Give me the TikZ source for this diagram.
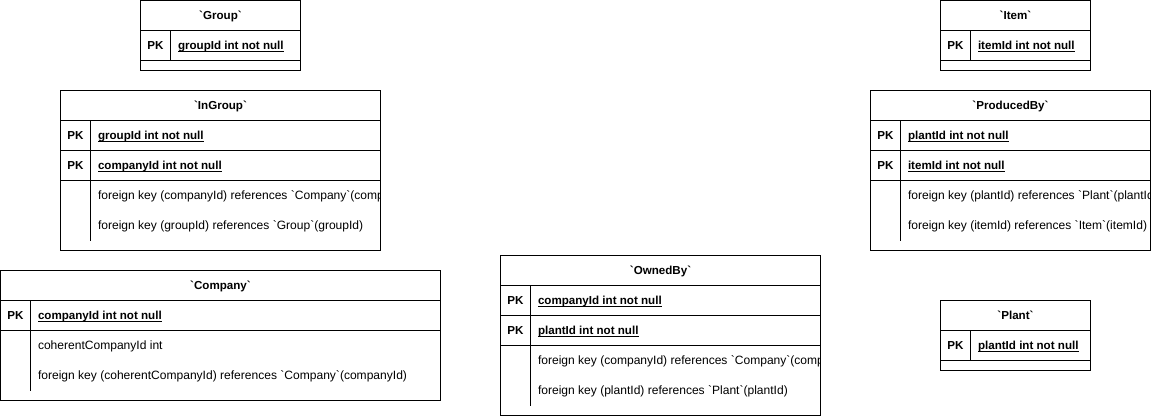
\documentclass[tikz,border=0pt]{standalone}
\usepackage{fontspec}
\setmainfont{Liberation Sans}[Ligatures=TeXOff]
\newcommand\bfsz{\fontsize{11.6}{14}\selectfont\bfseries}
\newcommand\ulbf[1]{\setbox0\hbox{\bfsz #1}\rlap{\rule[-1.7pt]{\wd0}{1pt}}\box0}
\begin{document}
\begin{tikzpicture}[x=1pt,y=-1pt,
  every node/.style={inner sep=0pt, outer sep=0pt, font=\fontsize{12.05}{14}\selectfont},
  tbl/.style={draw, line width=1pt, anchor=north west},
  ttl/.style={anchor=base, font=\bfsz},
  pk/.style={anchor=base, font=\bfsz},
  fld/.style={anchor=base west},
  sep/.style={line width=1pt}]
\useasboundingbox (0,0) rectangle (1161,416);

% ---------- Group ----------
\begin{scope}[shift={(140.5,0.5)}]
  \node[tbl, minimum width=160pt, minimum height=70pt] (group) at (0,0) {};
  \draw[sep] (0,30) -- (160,30) (0,60) -- (160,60) (30,30) -- (30,60);
  \begin{scope}
    \clip (0,0) rectangle (160,70);
    \node[ttl] (group-t) at (80,19.3) {`Group`};
    \node[pk] (group-pk1) at (15,49.3) {PK};
    \node[fld] (group-f1) at (37.5,49.3) {\ulbf{groupId int not null}};
  \end{scope}
\end{scope}

% ---------- Item ----------
\begin{scope}[shift={(940.5,0.5)}]
  \node[tbl, minimum width=150pt, minimum height=70pt] (item) at (0,0) {};
  \draw[sep] (0,30) -- (150,30) (0,60) -- (150,60) (30,30) -- (30,60);
  \begin{scope}
    \clip (0,0) rectangle (150,70);
    \node[ttl] (item-t) at (75,19.3) {`Item`};
    \node[pk] (item-pk1) at (15,49.3) {PK};
    \node[fld] (item-f1) at (37.5,49.3) {\ulbf{itemId int not null}};
  \end{scope}
\end{scope}

% ---------- Plant ----------
\begin{scope}[shift={(940.5,300.5)}]
  \node[tbl, minimum width=150pt, minimum height=70pt] (plant) at (0,0) {};
  \draw[sep] (0,30) -- (150,30) (0,60) -- (150,60) (30,30) -- (30,60);
  \begin{scope}
    \clip (0,0) rectangle (150,70);
    \node[ttl] (plant-t) at (75,19.3) {`Plant`};
    \node[pk] (plant-pk1) at (15,49.3) {PK};
    \node[fld] (plant-f1) at (37.5,49.3) {\ulbf{plantId int not null}};
  \end{scope}
\end{scope}

% ---------- InGroup ----------
\begin{scope}[shift={(60.5,90.5)}]
  \node[tbl, minimum width=320pt, minimum height=160pt] (ingroup) at (0,0) {};
  \draw[sep] (0,30) -- (320,30) (0,60) -- (320,60) (0,90) -- (320,90) (30,30) -- (30,150);
  \begin{scope}
    \clip (0,0) rectangle (320,160);
    \node[ttl] (ingroup-t) at (160,19.3) {`InGroup`};
    \node[pk] (ingroup-pk1) at (15,49.3) {PK};
    \node[fld] (ingroup-f1) at (37.5,49.3) {\ulbf{groupId int not null}};
    \node[pk] (ingroup-pk2) at (15,79.3) {PK};
    \node[fld] (ingroup-f2) at (37.5,79.3) {\ulbf{companyId int not null}};
    \node[fld] (ingroup-f3) at (37.5,109.3) {foreign key (companyId) references `Company`(companyId)};
    \node[fld] (ingroup-f4) at (37.5,139.3) {foreign key (groupId) references `Group`(groupId)};
  \end{scope}
\end{scope}

% ---------- ProducedBy ----------
\begin{scope}[shift={(870.5,90.5)}]
  \node[tbl, minimum width=280pt, minimum height=160pt] (producedby) at (0,0) {};
  \draw[sep] (0,30) -- (280,30) (0,60) -- (280,60) (0,90) -- (280,90) (30,30) -- (30,150);
  \begin{scope}
    \clip (0,0) rectangle (280,160);
    \node[ttl] (producedby-t) at (140,19.3) {`ProducedBy`};
    \node[pk] (producedby-pk1) at (15,49.3) {PK};
    \node[fld] (producedby-f1) at (37.5,49.3) {\ulbf{plantId int not null}};
    \node[pk] (producedby-pk2) at (15,79.3) {PK};
    \node[fld] (producedby-f2) at (37.5,79.3) {\ulbf{itemId int not null}};
    \node[fld] (producedby-f3) at (37.5,109.3) {foreign key (plantId) references `Plant`(plantId)};
    \node[fld] (producedby-f4) at (37.5,139.3) {foreign key (itemId) references `Item`(itemId)};
  \end{scope}
\end{scope}

% ---------- Company ----------
\begin{scope}[shift={(0.5,270.5)}]
  \node[tbl, minimum width=440pt, minimum height=130pt] (company) at (0,0) {};
  \draw[sep] (0,30) -- (440,30) (0,60) -- (440,60) (30,30) -- (30,120);
  \begin{scope}
    \clip (0,0) rectangle (440,130);
    \node[ttl] (company-t) at (220,19.3) {`Company`};
    \node[pk] (company-pk1) at (15,49.3) {PK};
    \node[fld] (company-f1) at (37.5,49.3) {\ulbf{companyId int not null}};
    \node[fld] (company-f2) at (37.5,79.3) {coherentCompanyId int};
    \node[fld] (company-f3) at (37.5,109.3) {foreign key (coherentCompanyId) references `Company`(companyId)};
  \end{scope}
\end{scope}

% ---------- OwnedBy ----------
\begin{scope}[shift={(500.5,255.5)}]
  \node[tbl, minimum width=320pt, minimum height=160pt] (ownedby) at (0,0) {};
  \draw[sep] (0,30) -- (320,30) (0,60) -- (320,60) (0,90) -- (320,90) (30,30) -- (30,150);
  \begin{scope}
    \clip (0,0) rectangle (320,160);
    \node[ttl] (ownedby-t) at (160,19.3) {`OwnedBy`};
    \node[pk] (ownedby-pk1) at (15,49.3) {PK};
    \node[fld] (ownedby-f1) at (37.5,49.3) {\ulbf{companyId int not null}};
    \node[pk] (ownedby-pk2) at (15,79.3) {PK};
    \node[fld] (ownedby-f2) at (37.5,79.3) {\ulbf{plantId int not null}};
    \node[fld] (ownedby-f3) at (37.5,109.3) {foreign key (companyId) references `Company`(companyId)};
    \node[fld] (ownedby-f4) at (37.5,139.3) {foreign key (plantId) references `Plant`(plantId)};
  \end{scope}
\end{scope}
\end{tikzpicture}
\end{document}
